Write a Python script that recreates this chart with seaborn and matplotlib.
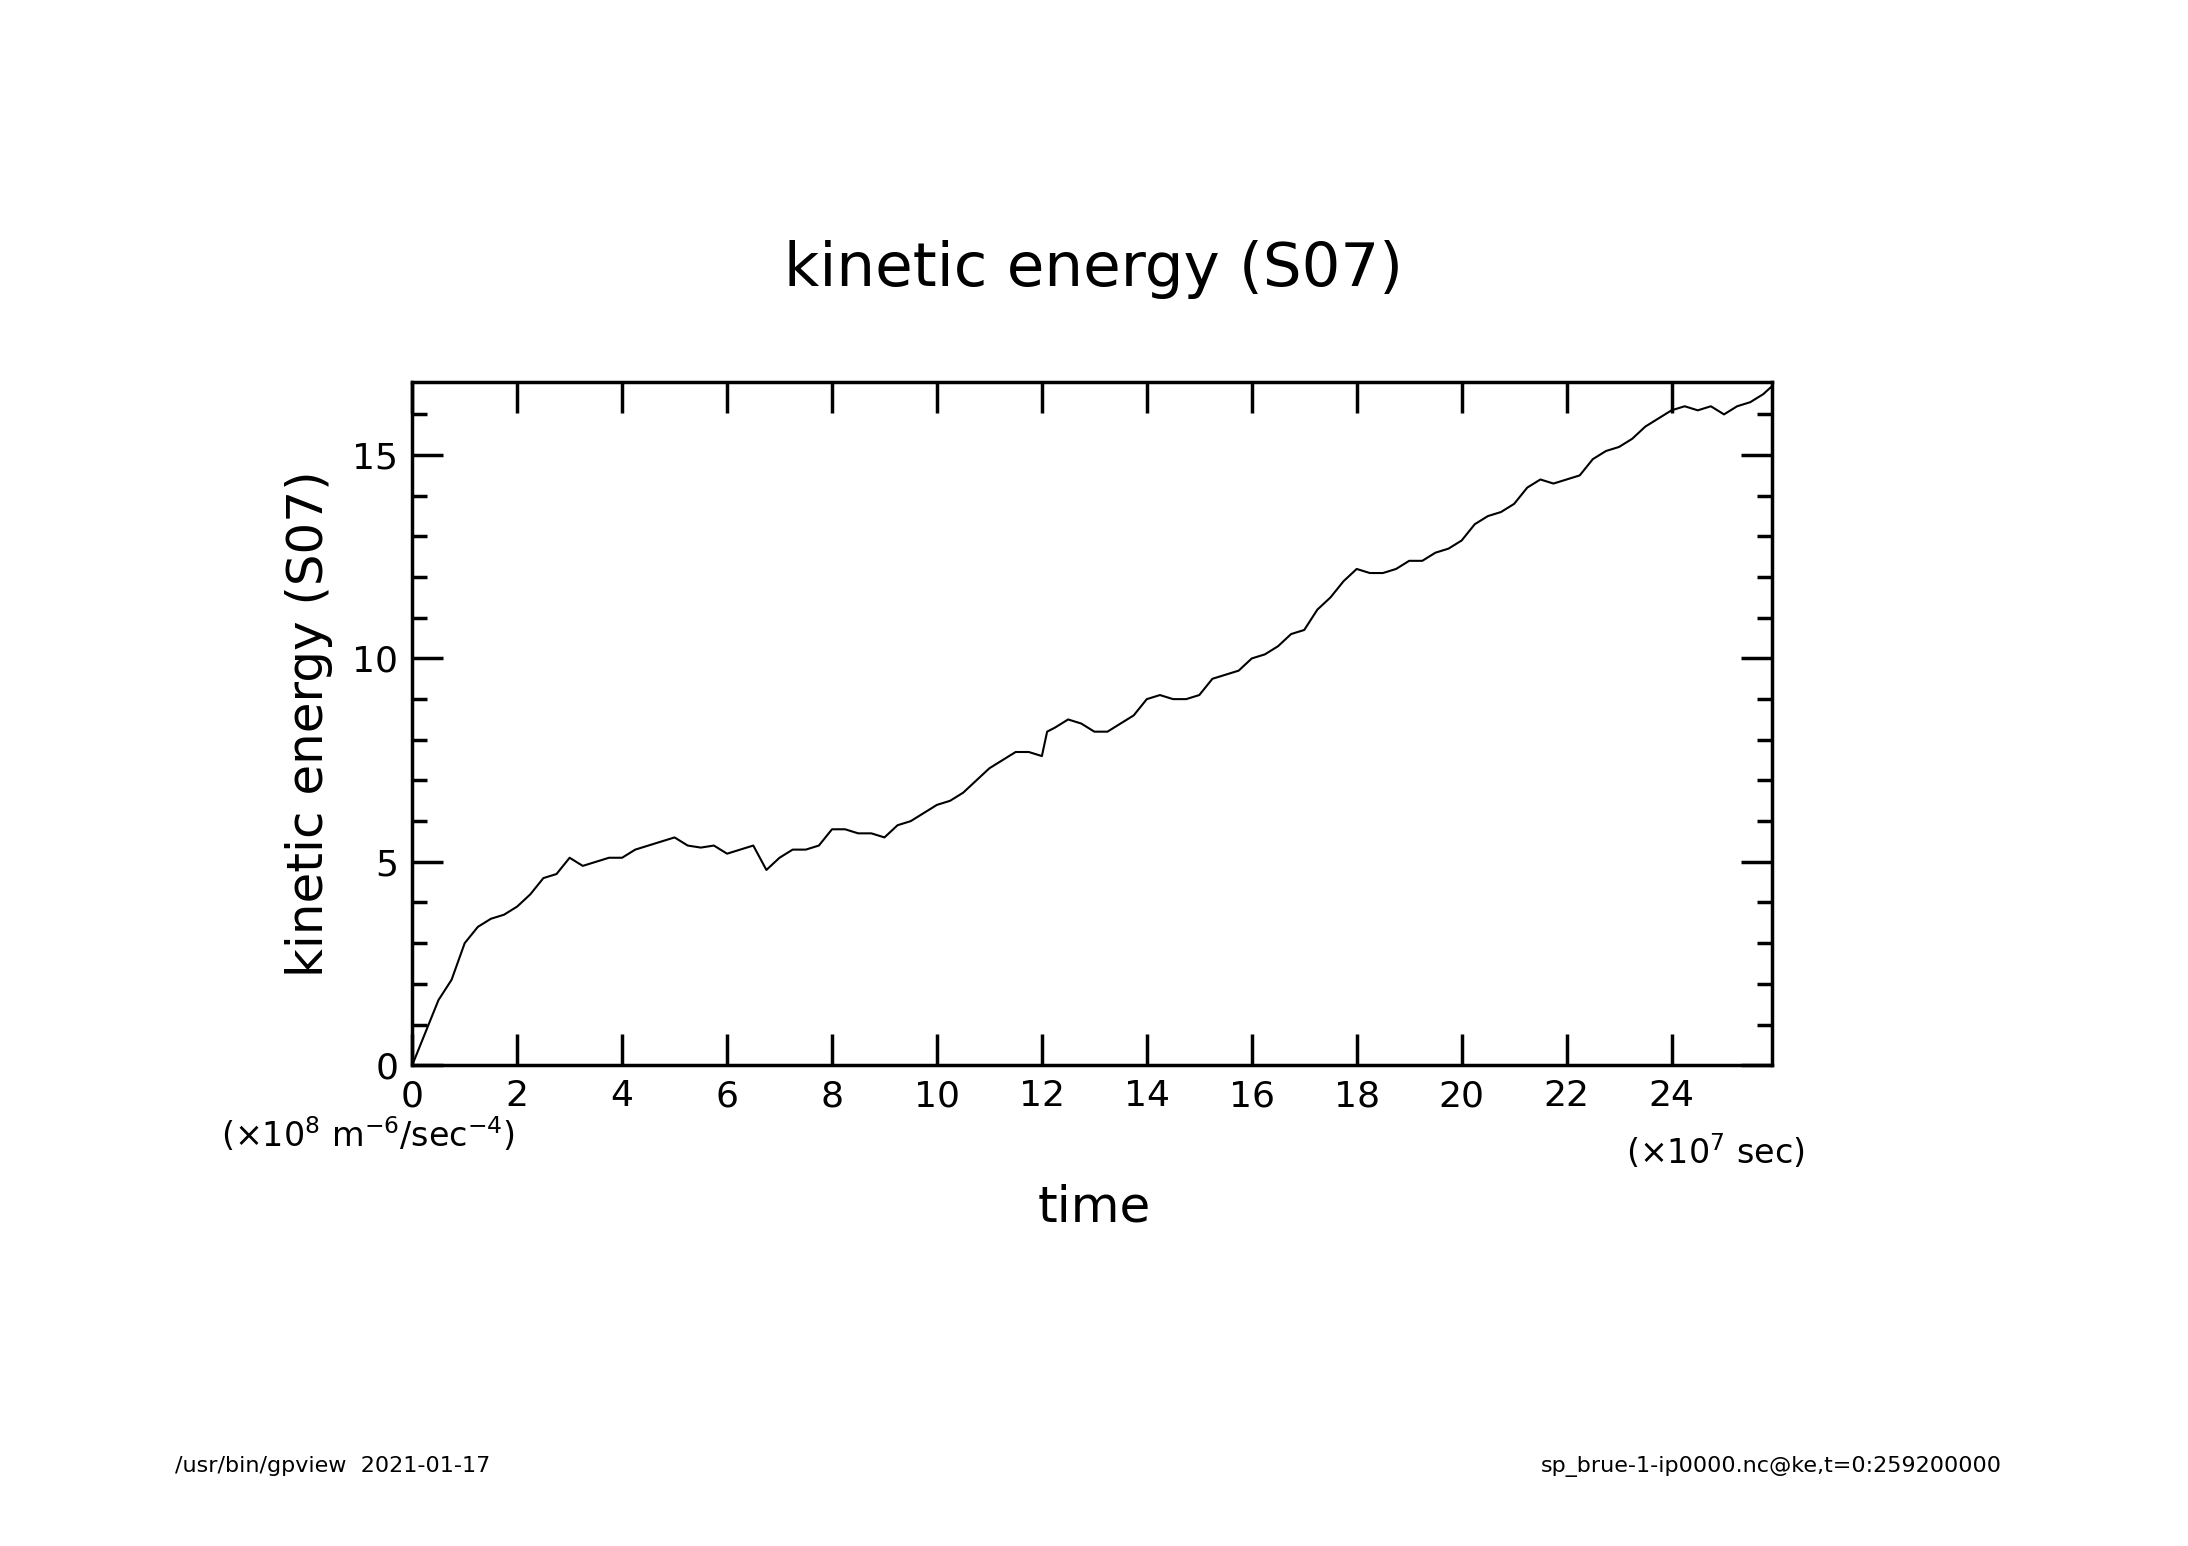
import numpy as np
import matplotlib
matplotlib.use('Agg')
import matplotlib.pyplot as plt
import seaborn as sns
from matplotlib.ticker import MultipleLocator

# time in 1e7 sec, kinetic energy in 1e8 m^6/sec^4
time = [0, 0.25, 0.5, 0.75, 1.0, 1.25, 1.5, 1.75, 2.0, 2.25, 2.5, 2.75, 3.0, 3.25, 3.5, 3.75,
        4.0, 4.25, 4.5, 4.75, 5.0, 5.25, 5.5, 5.75, 6.0, 6.25, 6.5, 6.75, 7.0, 7.25, 7.5, 7.75,
        8.0, 8.25, 8.5, 8.75, 9.0, 9.25, 9.5, 9.75, 10.0, 10.25, 10.5, 10.75, 11.0, 11.25, 11.5,
        11.75, 12.0, 12.1, 12.25, 12.5, 12.75, 13.0, 13.25, 13.5, 13.75, 14.0, 14.25, 14.5, 14.75,
        15.0, 15.25, 15.5, 15.75, 16.0, 16.25, 16.5, 16.75, 17.0, 17.25, 17.5, 17.75, 18.0, 18.25,
        18.5, 18.75, 19.0, 19.25, 19.5, 19.75, 20.0, 20.25, 20.5, 20.75, 21.0, 21.25, 21.5, 21.75,
        22.0, 22.25, 22.5, 22.75, 23.0, 23.25, 23.5, 23.75, 24.0, 24.25, 24.5, 24.75, 25.0, 25.25,
        25.5, 25.75, 25.92]
ke = [0, 0.8, 1.6, 2.1, 3.0, 3.4, 3.6, 3.7, 3.9, 4.2, 4.6, 4.7, 5.1, 4.9, 5.0, 5.1,
      5.1, 5.3, 5.4, 5.5, 5.6, 5.4, 5.35, 5.4, 5.2, 5.3, 5.4, 4.8, 5.1, 5.3, 5.3, 5.4,
      5.8, 5.8, 5.7, 5.7, 5.6, 5.9, 6.0, 6.2, 6.4, 6.5, 6.7, 7.0, 7.3, 7.5, 7.7,
      7.7, 7.6, 8.2, 8.3, 8.5, 8.4, 8.2, 8.2, 8.4, 8.6, 9.0, 9.1, 9.0, 9.0,
      9.1, 9.5, 9.6, 9.7, 10.0, 10.1, 10.3, 10.6, 10.7, 11.2, 11.5, 11.9, 12.2, 12.1,
      12.1, 12.2, 12.4, 12.4, 12.6, 12.7, 12.9, 13.3, 13.5, 13.6, 13.8, 14.2, 14.4, 14.3,
      14.4, 14.5, 14.9, 15.1, 15.2, 15.4, 15.7, 15.9, 16.1, 16.2, 16.1, 16.2, 16.0, 16.2,
      16.3, 16.5, 16.7]

sns.set_style('white')
plt.rcParams['font.family'] = ['DejaVu Sans']
plt.rcParams['text.color'] = 'black'
plt.rcParams['axes.labelcolor'] = 'black'
plt.rcParams['xtick.color'] = 'black'
plt.rcParams['ytick.color'] = 'black'

fig = plt.figure(figsize=(21.88, 15.46), dpi=100)
ax = fig.add_axes([0.1884, 0.311, 0.6216, 0.442])
sns.lineplot(x=time, y=ke, ax=ax, color='black', linewidth=1.5)

ax.set_xlim(0, 25.92)
ax.set_ylim(0, 16.8)
ax.xaxis.set_major_locator(MultipleLocator(2))
ax.yaxis.set_major_locator(MultipleLocator(5))
ax.yaxis.set_minor_locator(MultipleLocator(1))
ax.tick_params(which='both', direction='in', top=True, right=True, bottom=True, left=True, width=2.5)
ax.tick_params(which='major', length=22, labelsize=26, pad=10)
ax.tick_params(which='minor', length=11)
for s in ax.spines.values():
    s.set_linewidth(2.5)
    s.set_color('black')
ax.set_xticks(range(0, 25, 2))

fig.text(0.5, 0.826, 'kinetic energy (S07)', ha='center', va='center', fontsize=44)
ax.set_ylabel('kinetic energy (S07)', fontsize=36, labelpad=14)
fig.text(0.5, 0.219, 'time', ha='center', va='center', fontsize=36)
fig.text(0.101, 0.266, '(×10$^{8}$ m$^{-6}$/sec$^{-4}$)', ha='left', va='center', fontsize=24)
fig.text(0.825, 0.255, '(×10$^{7}$ sec)', ha='right', va='center', fontsize=24)
fig.text(0.08, 0.0515, '/usr/bin/gpview  2021-01-17', ha='left', va='center', fontsize=16)
fig.text(0.915, 0.0515, 'sp_brue-1-ip0000.nc@ke,t=0:259200000', ha='right', va='center', fontsize=16)

fig.savefig('out.png', dpi=100, facecolor='white')
